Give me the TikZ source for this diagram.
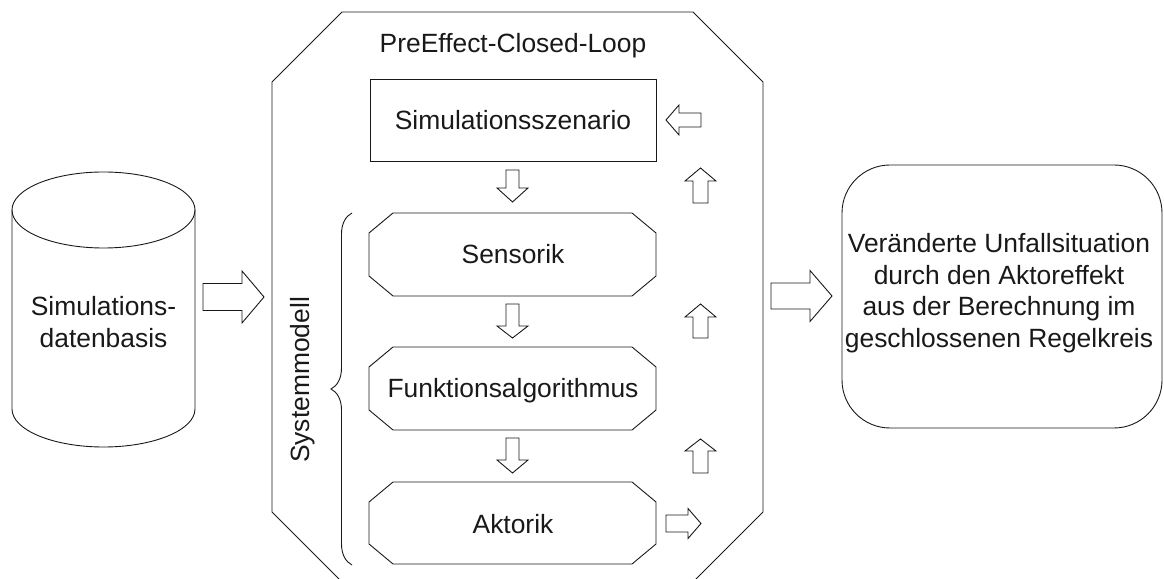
\documentclass[tikz,border=0pt]{standalone}
\usepackage{fontspec}
\setmainfont{Liberation Sans}
\usetikzlibrary{decorations.pathreplacing}
\tikzset{
  ln/.style={line width=0.9pt, draw=black!90},
  barr/.style={ln, fill=white, line join=miter},
  lbl/.style={font=\fontsize{26.4}{31.5}\selectfont, inner sep=0pt, text=black!90},
}
% tail x, tail y, angle, length, head length, body half width, head half width
\newcommand\blockarrow[7]{%
  \draw[barr,shift={(#1,#2)},rotate=#3] (0,-#6) -- ({#4-#5},-#6) -- ({#4-#5},-#7) -- (#4,0) -- ({#4-#5},#7) -- ({#4-#5},#6) -- (0,#6) -- cycle;}
% octagonal box: left, bottom, right, top
\newcommand\octbox[4]{%
  \draw[ln] ({#1+24},#2) -- ({#3-24},#2) -- (#3,{#2+20}) -- (#3,{#4-20}) -- ({#3-24},#4) -- ({#1+24},#4) -- (#1,{#4-20}) -- (#1,{#2+20}) -- cycle;}
\begin{document}
\begin{tikzpicture}[x=1pt,y=1pt]
\useasboundingbox (0,0) rectangle (1164,578);

% database cylinder
\draw[ln] (12,368) -- (12,169) arc[start angle=180,end angle=360,x radius=91.5,y radius=38] -- (195,368);
\draw[ln] (103.5,368) ellipse[x radius=91.5,y radius=38];
\node[lbl,align=center] (db) at (103.5,256) {Simulations-\\datenbasis};

% arrow into loop
\blockarrow{203}{281}{0}{61}{22}{13.5}{26}

% outer octagon (clipped at bottom)
\begin{scope}
\clip (0,0) rectangle (1164,578);
\draw[ln] (272,496) -- (342,566) -- (693,566) -- (763,496) -- (763,66) -- (693,-4) -- (342,-4) -- (272,66) -- cycle;
\end{scope}
\node[lbl,anchor=base] (title) at (513,525) {PreEffect-Closed-Loop};

% scenario
\draw[ln] (370,417) rectangle (656,499);
\node[lbl,anchor=base] (scen) at (513,448) {Simulationsszenario};

% system model boxes
\octbox{369}{282}{656}{365}
\node[lbl,anchor=base] (sens) at (513,314) {Sensorik};
\octbox{369}{148}{656}{231}
\node[lbl,anchor=base] (func) at (513,180) {Funktionsalgorithmus};
\octbox{369}{14}{656}{96}
\node[lbl,anchor=base] (akt) at (513,44) {Aktorik};

% down arrows
\blockarrow{512.5}{408}{-90}{32}{14}{6.5}{15.5}
\blockarrow{512.5}{274}{-90}{34}{12}{6.5}{15.5}
\blockarrow{512.5}{140}{-90}{35}{13}{6.5}{15.5}

% feedback arrows
\blockarrow{666}{54.5}{0}{35}{13}{8.5}{15}
\blockarrow{700.5}{105}{90}{34}{12}{7.5}{15.5}
\blockarrow{700.5}{240}{90}{34}{13}{7.5}{15.5}
\blockarrow{700.5}{375}{90}{35}{13}{7.5}{15.5}
\blockarrow{701}{458}{180}{35}{13}{7}{15}

% brace and label
\draw[ln, decorate, decoration={brace, amplitude=21pt}] (352,13) -- (352,365);
\node[lbl,anchor=base,rotate=90] (sysm) at (309,198) {Systemmodell};

% arrow out
\blockarrow{771}{282}{0}{61}{22}{13}{25.5}

% result box
\draw[ln, rounded corners=48pt] (842,150) rectangle (1162,413);
\node[lbl,align=center] (res) at (999,285) {Veränderte Unfallsituation\\durch den Aktoreffekt\\aus der Berechnung im\\geschlossenen Regelkreis};
\end{tikzpicture}
\end{document}
